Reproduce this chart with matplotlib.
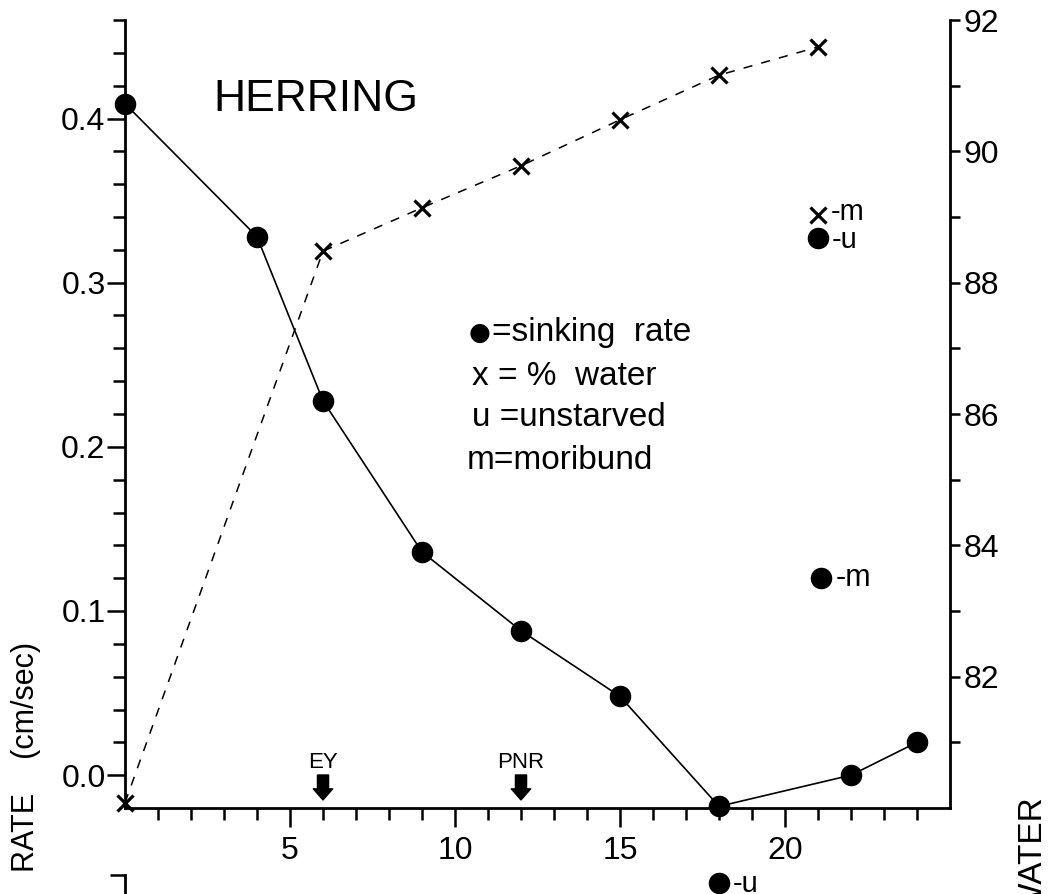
import numpy as np
import matplotlib
matplotlib.use('Agg')
import matplotlib.pyplot as plt
from matplotlib.ticker import FixedLocator

plt.rcParams['font.family'] = ['Liberation Sans', 'DejaVu Sans']

# ---------------- data ----------------
days_rate = [0, 4, 6, 9, 12, 15, 18, 22, 24]
sinking_rate = [0.409, 0.328, 0.228, 0.136, 0.088, 0.048, -0.019, 0.000, 0.020]

days_water = [0, 6, 9, 12, 15, 18, 21]
water_pct = [80.08, 88.48, 89.14, 89.78, 90.48, 91.16, 91.59]

# separately plotted single points
unstarved_days = [21, 18]
unstarved_rate = [0.327, -0.0657]
moribund_days = [21.1]
moribund_rate = [0.120]
moribund_water_days = [21]
moribund_water = [89.03]

event_days = [6, 12]
event_labels = ['EY', 'PNR']

x_major = [5, 10, 15, 20]
x_minor = [d for d in range(1, 25) if d % 5]
y_major = [0.0, 0.1, 0.2, 0.3, 0.4]
y_major_labels = ['0.0', '0.1', '0.2', '0.3', '0.4']
y_minor = [0.02, 0.04, 0.06, 0.08, 0.12, 0.14, 0.16, 0.18, 0.22, 0.24, 0.26,
           0.28, 0.32, 0.34, 0.36, 0.38, 0.42, 0.44, 0.46]
w_major = [82, 84, 86, 88, 90, 92]
w_minor = [81, 83, 85, 87, 89, 91]

legend_symbol = '\u25cf'
legend_lines = ['=sinking  rate', 'x = %  water', 'u =unstarved', 'm=moribund']

# ---------------- figure ----------------
W, H = 1052, 894
fig = plt.figure(figsize=(W / 100, H / 100), dpi=100)
ax = fig.add_axes([125 / W, 86 / H, 825 / W, 788 / H])
ax.set_xlim(0, 25)
ax.set_ylim(-0.02, 0.46)
ax2 = ax.twinx()
ax2.set_ylim(80, 92)

for s in ['top', 'right']:
    ax.spines[s].set_visible(False)
for s in ['top', 'left', 'bottom']:
    ax2.spines[s].set_visible(False)
ax.spines['left'].set_linewidth(2)
ax.spines['bottom'].set_linewidth(2)
ax2.spines['right'].set_linewidth(2)

ax.set_xticks(x_major)
ax.set_xticklabels([str(v) for v in x_major])
ax.xaxis.set_minor_locator(FixedLocator(x_minor))
ax.tick_params(axis='x', which='major', length=14, width=1.8, direction='out',
               labelsize=23, pad=6)
ax.tick_params(axis='x', which='minor', length=8.5, width=1.8, direction='out')

ax.set_yticks(y_major)
ax.set_yticklabels(y_major_labels)
ax.yaxis.set_minor_locator(FixedLocator(y_minor))
ax.tick_params(axis='y', which='major', length=13, width=1.8, direction='out',
               labelsize=23, pad=1)
ax.tick_params(axis='y', which='minor', length=8.5, width=1.8, direction='out')

ax2.set_yticks(w_major)
ax2.set_yticklabels([str(v) for v in w_major])
ax2.yaxis.set_minor_locator(FixedLocator(w_minor))
ax2.tick_params(axis='y', which='major', length=7.5, width=1.8, direction='out',
                labelsize=23, pad=2)
ax2.tick_params(axis='y', which='minor', length=7.5, width=1.8, direction='out')

# sinking rate
ax.plot(days_rate, sinking_rate, '-', color='black', lw=1.2, marker='o',
        ms=14.5, clip_on=False, zorder=3)
ax.plot(unstarved_days, unstarved_rate, 'o', color='black', ms=14.5, clip_on=False)
ax.plot(moribund_days, moribund_rate, 'o', color='black', ms=14.5, clip_on=False)
for x, y in zip(unstarved_days, unstarved_rate):
    ax.annotate('-u', xy=(x, y), xytext=(10, -1), textcoords='offset points',
                ha='left', va='center', fontsize=21, annotation_clip=False)
for x, y in zip(moribund_days, moribund_rate):
    ax.annotate('-m', xy=(x, y), xytext=(10, 0), textcoords='offset points',
                ha='left', va='center', fontsize=22, annotation_clip=False)

# water content
ax2.plot(days_water, water_pct, color='black', lw=1.1, linestyle=(0, (6, 6)),
         marker='x', ms=11, mew=2.3, clip_on=False)
ax2.plot(moribund_water_days, moribund_water, 'x', color='black', ms=11, mew=2.3)
for x, y in zip(moribund_water_days, moribund_water):
    ax2.annotate('-m', xy=(x, y), xytext=(9, 2), textcoords='offset points',
                 ha='left', va='center', fontsize=21)

# events
for d, lab in zip(event_days, event_labels):
    ax.annotate('', xy=(d, 0.0102), xytext=(d, 0.0419),
                xycoords=('data', 'axes fraction'), textcoords=('data', 'axes fraction'),
                arrowprops=dict(arrowstyle='simple,head_length=0.4,head_width=0.7,tail_width=0.4',
                                color='black', mutation_scale=20, shrinkA=0, shrinkB=0))
    ax.text(d, 0.058, lab, transform=ax.get_xaxis_transform(), ha='center',
            va='center', fontsize=16)

# title and legend text
ax.text(0.1067, 0.8985, 'HERRING', transform=ax.transAxes, ha='left',
        va='center', fontsize=32)
ax.text(0.4165, 0.6028, legend_symbol, transform=ax.transAxes, ha='left',
        va='center', fontsize=18, family=['DejaVu Sans'])
leg_y = [0.6028, 0.547, 0.496, 0.4416]
leg_x = [0.445, 0.42, 0.42, 0.4145]
for t, x, y in zip(legend_lines, leg_x, leg_y):
    ax.text(x, y, t, transform=ax.transAxes, ha='left', va='center', fontsize=24)

# axis titles (partially cut in the original crop)
fig.text(26 / W, 1 - 872 / H, 'RATE    (cm/sec)', rotation=90, ha='center',
         va='bottom', fontsize=22)
fig.text(1034 / W, 1 - 797 / H, '% WATER', rotation=90, ha='center',
         va='top', fontsize=24)

# top of the next panel below (cut)
axl = fig.add_axes([125 / W, 0, 825 / W, 19 / H])
axl.patch.set_visible(False)
for s in ['top', 'right', 'bottom']:
    axl.spines[s].set_visible(False)
axl.spines['left'].set_linewidth(2)
axl.set_xticks([])
axl.set_ylim(0, 1)
axl.set_yticks([1])
axl.set_yticklabels([''])
axl.tick_params(axis='y', length=11, width=1.8, direction='out')

fig.savefig('out.png', dpi=100)
